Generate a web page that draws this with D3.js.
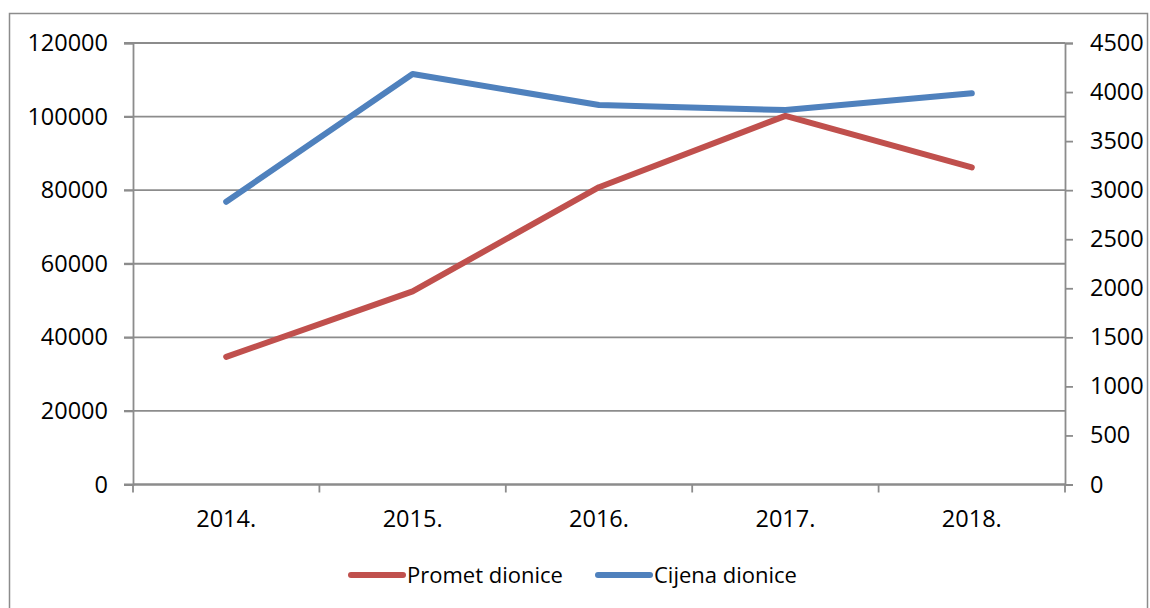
<!DOCTYPE html>
<html>
<head>
<meta charset="utf-8">
<script src="https://cdn.jsdelivr.net/npm/d3@7"></script>
<style>
  html, body { margin: 0; padding: 0; background: #fff; }
  svg { display: block; }
  text { font-family: "Open Sans", "Noto Sans", sans-serif; fill: #000; }
</style>
</head>
<body>
<svg id="chart" width="1150" height="608"></svg>
<script>
const categories = ["2014.", "2015.", "2016.", "2017.", "2018."];
const prometDionice = [34700, 52500, 80800, 100200, 86200];
const cijenaDionice = [2882, 4184, 3868, 3817, 3987];
const leftTicks = [0, 20000, 40000, 60000, 80000, 100000, 120000];
const rightTicks = [0, 500, 1000, 1500, 2000, 2500, 3000, 3500, 4000, 4500];
const seriesNames = ["Promet dionice", "Cijena dionice"];
const colors = ["#C0504D", "#4F81BD"];

const svg = d3.select("#chart");
const plot = { left: 133, right: 1065, top: 43, bottom: 484.5 };
const gridColor = "#8c8c8c";
const axisFont = 23.5;
const legendFont = 22;

// outer border
svg.append("rect")
  .attr("x", 9.5).attr("y", 13.5)
  .attr("width", 1138).attr("height", 620)
  .attr("fill", "none").attr("stroke", gridColor).attr("stroke-width", 1.5);

const x = d3.scaleBand().domain(categories).range([plot.left, plot.right]).padding(0);
const yL = d3.scaleLinear().domain([0, 120000]).range([plot.bottom, plot.top]);
const yR = d3.scaleLinear().domain([0, 4500]).range([plot.bottom, plot.top]);

// gridlines
svg.append("g").selectAll("line").data(leftTicks).join("line")
  .attr("x1", plot.left - 9).attr("x2", plot.right)
  .attr("y1", d => yL(d)).attr("y2", d => yL(d))
  .attr("stroke", gridColor).attr("stroke-width", 1.8);

// left axis
const gL = svg.append("g").attr("transform", `translate(${plot.left},0)`)
  .call(d3.axisLeft(yL).tickValues(leftTicks).tickSize(9).tickPadding(16).tickFormat(d3.format("d")));
// right axis
const gR = svg.append("g").attr("transform", `translate(${plot.right},0)`)
  .call(d3.axisRight(yR).tickValues(rightTicks).tickSize(8).tickPadding(17).tickFormat(d3.format("d")));
// bottom axis
const boundaries = categories.map(c => x(c)).concat([plot.right]);
const gB = svg.append("g").attr("transform", `translate(0,${plot.bottom})`)
  .call(d3.axisBottom(x).tickSize(0).tickPadding(26));
gB.selectAll(".tickmark").data(boundaries).join("line")
  .attr("class", "tickmark")
  .attr("x1", d => d).attr("x2", d => d).attr("y1", 0).attr("y2", 8)
  .attr("stroke", gridColor).attr("stroke-width", 1.8);

[gL, gR, gB].forEach(g => {
  g.select(".domain").attr("stroke", gridColor).attr("stroke-width", 1.8);
  g.selectAll(".tick line").attr("stroke", gridColor).attr("stroke-width", 1.8);
  g.selectAll(".tick text").attr("font-size", axisFont)
    .attr("font-family", '"Open Sans", "Noto Sans", sans-serif').attr("fill", "#000");
});
gB.select(".domain").remove();
svg.append("line").attr("x1", plot.left).attr("x2", plot.right)
  .attr("y1", plot.bottom).attr("y2", plot.bottom)
  .attr("stroke", gridColor).attr("stroke-width", 1.8);

// lines
const cx = c => x(c) + x.bandwidth() / 2;
const lineL = d3.line().x((d, i) => cx(categories[i])).y(d => yL(d));
const lineR = d3.line().x((d, i) => cx(categories[i])).y(d => yR(d));

svg.append("path").datum(prometDionice).attr("d", lineL)
  .attr("fill", "none").attr("stroke", colors[0]).attr("stroke-width", 6)
  .attr("stroke-linecap", "round").attr("stroke-linejoin", "round");
svg.append("path").datum(cijenaDionice).attr("d", lineR)
  .attr("fill", "none").attr("stroke", colors[1]).attr("stroke-width", 6)
  .attr("stroke-linecap", "round").attr("stroke-linejoin", "round");

// legend
const legendItems = [
  { name: seriesNames[0], color: colors[0], x0: 351 },
  { name: seriesNames[1], color: colors[1], x0: 598 }
];
const lg = svg.append("g");
legendItems.forEach(it => {
  lg.append("line").attr("x1", it.x0).attr("x2", it.x0 + 52)
    .attr("y1", 575).attr("y2", 575)
    .attr("stroke", it.color).attr("stroke-width", 6).attr("stroke-linecap", "round");
  lg.append("text").attr("x", it.x0 + 56).attr("y", 583)
    .attr("font-size", legendFont).text(it.name);
});
</script>
</body>
</html>
